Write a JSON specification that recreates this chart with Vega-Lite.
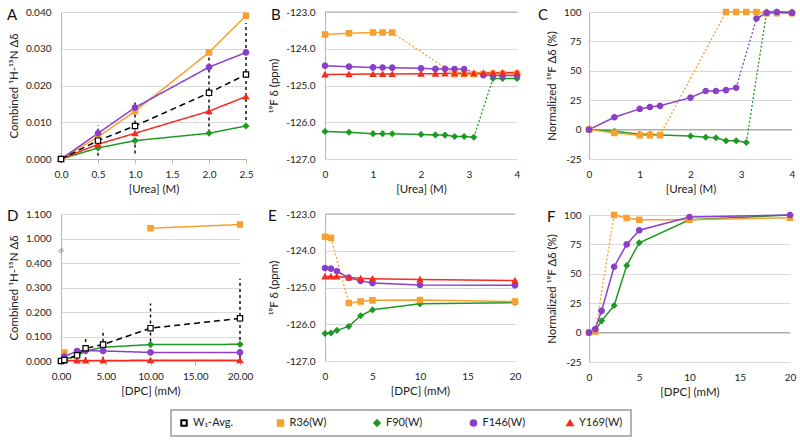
{
  "$schema": "https://vega.github.io/schema/vega-lite/v6.json",
  "background": "white",
  "padding": {"left": 7, "top": 6, "right": 5, "bottom": 5},
  "config": {
    "font": "Lato",
    "view": {"stroke": null},
    "locale": {"number": {"decimal": ".", "thousands": ",", "grouping": [3], "currency": ["$", ""], "minus": "-"}},
    "axis": {"labelFont": "Lato", "labelFontSize": 10, "labelColor": "#222", "titleFont": "Lato", "titleFontSize": 11.5, "titleFontWeight": "normal", "titleColor": "#222", "gridColor": "#d9d9d9", "domainColor": "#b3b3b3", "tickColor": "#b3b3b3"},
    "axisY": {"grid": true, "domain": true, "ticks": false, "tickSize": 0, "labelPadding": 10, "titlePadding": 6},
    "axisX": {"grid": false, "ticks": false, "tickSize": 0, "domain": false, "labelPadding": 10, "titlePadding": 4, "labelOverlap": false, "labelFlush": false, "labelBound": false}
  },
  "datasets": {
    "A": [
      {"s": "F90(W)", "x": 0, "y": 0, "seg": 1},
      {"s": "F90(W)", "x": 0.5, "y": 0.003, "seg": 1},
      {"s": "F90(W)", "x": 1.0, "y": 0.005, "seg": 1},
      {"s": "F90(W)", "x": 2.0, "y": 0.007, "seg": 1},
      {"s": "F90(W)", "x": 2.5, "y": 0.009, "seg": 1},
      {"s": "R36(W)", "x": 0, "y": 0, "seg": 1},
      {"s": "R36(W)", "x": 0.5, "y": 0.006, "seg": 1},
      {"s": "R36(W)", "x": 1.0, "y": 0.013, "seg": 1},
      {"s": "R36(W)", "x": 2.0, "y": 0.029, "seg": 1},
      {"s": "R36(W)", "x": 2.5, "y": 0.039, "seg": 1},
      {"s": "F146(W)", "x": 0, "y": 0, "seg": 1},
      {"s": "F146(W)", "x": 0.5, "y": 0.007, "seg": 1},
      {"s": "F146(W)", "x": 1.0, "y": 0.014, "seg": 1},
      {"s": "F146(W)", "x": 2.0, "y": 0.025, "seg": 1},
      {"s": "F146(W)", "x": 2.5, "y": 0.029, "seg": 1},
      {"s": "Y169(W)", "x": 0, "y": 0, "seg": 1},
      {"s": "Y169(W)", "x": 0.5, "y": 0.004, "seg": 1},
      {"s": "Y169(W)", "x": 1.0, "y": 0.007, "seg": 1},
      {"s": "Y169(W)", "x": 2.0, "y": 0.013, "seg": 1},
      {"s": "Y169(W)", "x": 2.5, "y": 0.017, "seg": 1},
      {"s": "W₁-Avg.", "x": 0, "y": 0, "seg": 1},
      {"s": "W₁-Avg.", "x": 0.5, "y": 0.005, "seg": 1, "lo": 0.0009, "hi": 0.0092},
      {"s": "W₁-Avg.", "x": 1.0, "y": 0.009, "seg": 1, "lo": 0.0015, "hi": 0.0155},
      {"s": "W₁-Avg.", "x": 2.0, "y": 0.018, "seg": 1, "lo": 0.0072, "hi": 0.029},
      {"s": "W₁-Avg.", "x": 2.5, "y": 0.023, "seg": 1, "lo": 0.009, "hi": 0.037}
    ],
    "B": [
      {"s": "F90(W)", "x": 0, "y": -126.25, "seg": 1},
      {"s": "F90(W)", "x": 0.5, "y": -126.27, "seg": 1},
      {"s": "F90(W)", "x": 1.0, "y": -126.31, "seg": 1},
      {"s": "F90(W)", "x": 1.2, "y": -126.31, "seg": 1},
      {"s": "F90(W)", "x": 1.4, "y": -126.315, "seg": 1},
      {"s": "F90(W)", "x": 2.0, "y": -126.33, "seg": 1},
      {"s": "F90(W)", "x": 2.3, "y": -126.344, "seg": 1},
      {"s": "F90(W)", "x": 2.5, "y": -126.35, "seg": 1},
      {"s": "F90(W)", "x": 2.7, "y": -126.387, "seg": 1},
      {"s": "F90(W)", "x": 2.9, "y": -126.387, "seg": 1},
      {"s": "F90(W)", "x": 3.1, "y": -126.408, "seg": 1, "gap": "g"},
      {"s": "F90(W)", "x": 3.5, "y": -124.81, "seg": 2, "gap": "g"},
      {"s": "F90(W)", "x": 3.7, "y": -124.81, "seg": 2},
      {"s": "F90(W)", "x": 4.0, "y": -124.81, "seg": 2},
      {"s": "R36(W)", "x": 0, "y": -123.61, "seg": 1},
      {"s": "R36(W)", "x": 0.5, "y": -123.58, "seg": 1},
      {"s": "R36(W)", "x": 1.0, "y": -123.56, "seg": 1},
      {"s": "R36(W)", "x": 1.2, "y": -123.56, "seg": 1},
      {"s": "R36(W)", "x": 1.4, "y": -123.56, "seg": 1, "gap": "o"},
      {"s": "R36(W)", "x": 2.7, "y": -124.69, "seg": 2, "gap": "o"},
      {"s": "R36(W)", "x": 2.9, "y": -124.69, "seg": 2},
      {"s": "R36(W)", "x": 3.1, "y": -124.69, "seg": 2},
      {"s": "R36(W)", "x": 3.3, "y": -124.69, "seg": 2},
      {"s": "R36(W)", "x": 3.5, "y": -124.68, "seg": 2},
      {"s": "R36(W)", "x": 3.7, "y": -124.68, "seg": 2},
      {"s": "R36(W)", "x": 4.0, "y": -124.68, "seg": 2},
      {"s": "F146(W)", "x": 0, "y": -124.46, "seg": 1},
      {"s": "F146(W)", "x": 0.5, "y": -124.488, "seg": 1},
      {"s": "F146(W)", "x": 1.0, "y": -124.508, "seg": 1},
      {"s": "F146(W)", "x": 1.2, "y": -124.511, "seg": 1},
      {"s": "F146(W)", "x": 1.4, "y": -124.514, "seg": 1},
      {"s": "F146(W)", "x": 2.0, "y": -124.533, "seg": 1},
      {"s": "F146(W)", "x": 2.3, "y": -124.548, "seg": 1},
      {"s": "F146(W)", "x": 2.5, "y": -124.548, "seg": 1},
      {"s": "F146(W)", "x": 2.7, "y": -124.55, "seg": 1},
      {"s": "F146(W)", "x": 2.9, "y": -124.556, "seg": 1, "gap": "p"},
      {"s": "F146(W)", "x": 3.3, "y": -124.717, "seg": 2, "gap": "p"},
      {"s": "F146(W)", "x": 3.5, "y": -124.728, "seg": 2},
      {"s": "F146(W)", "x": 3.7, "y": -124.73, "seg": 2},
      {"s": "F146(W)", "x": 4.0, "y": -124.728, "seg": 2},
      {"s": "Y169(W)", "x": 0, "y": -124.7, "seg": 1},
      {"s": "Y169(W)", "x": 0.5, "y": -124.695, "seg": 1},
      {"s": "Y169(W)", "x": 1.0, "y": -124.69, "seg": 1},
      {"s": "Y169(W)", "x": 1.2, "y": -124.69, "seg": 1},
      {"s": "Y169(W)", "x": 1.4, "y": -124.69, "seg": 1},
      {"s": "Y169(W)", "x": 2.0, "y": -124.68, "seg": 1},
      {"s": "Y169(W)", "x": 2.3, "y": -124.68, "seg": 1},
      {"s": "Y169(W)", "x": 2.5, "y": -124.675, "seg": 1},
      {"s": "Y169(W)", "x": 2.7, "y": -124.67, "seg": 1},
      {"s": "Y169(W)", "x": 2.9, "y": -124.67, "seg": 1},
      {"s": "Y169(W)", "x": 3.1, "y": -124.665, "seg": 1},
      {"s": "Y169(W)", "x": 3.3, "y": -124.66, "seg": 1},
      {"s": "Y169(W)", "x": 3.5, "y": -124.655, "seg": 1},
      {"s": "Y169(W)", "x": 3.7, "y": -124.65, "seg": 1},
      {"s": "Y169(W)", "x": 4.0, "y": -124.645, "seg": 1}
    ],
    "C": [
      {"s": "F90(W)", "x": 0, "y": 0, "seg": 1},
      {"s": "F90(W)", "x": 0.5, "y": -1.5, "seg": 1},
      {"s": "F90(W)", "x": 1.0, "y": -4, "seg": 1},
      {"s": "F90(W)", "x": 1.2, "y": -4, "seg": 1},
      {"s": "F90(W)", "x": 1.4, "y": -4.5, "seg": 1},
      {"s": "F90(W)", "x": 2.0, "y": -5.5, "seg": 1},
      {"s": "F90(W)", "x": 2.3, "y": -6.5, "seg": 1},
      {"s": "F90(W)", "x": 2.5, "y": -7, "seg": 1},
      {"s": "F90(W)", "x": 2.7, "y": -9.5, "seg": 1},
      {"s": "F90(W)", "x": 2.9, "y": -9.5, "seg": 1},
      {"s": "F90(W)", "x": 3.1, "y": -11, "seg": 1, "gap": "g"},
      {"s": "F90(W)", "x": 3.5, "y": 100, "seg": 2, "gap": "g"},
      {"s": "F90(W)", "x": 3.7, "y": 100, "seg": 2},
      {"s": "F90(W)", "x": 4.0, "y": 100, "seg": 2},
      {"s": "R36(W)", "x": 0, "y": 0, "seg": 1},
      {"s": "R36(W)", "x": 0.5, "y": -2.8, "seg": 1},
      {"s": "R36(W)", "x": 1.0, "y": -4.8, "seg": 1},
      {"s": "R36(W)", "x": 1.2, "y": -4.8, "seg": 1},
      {"s": "R36(W)", "x": 1.4, "y": -4.8, "seg": 1, "gap": "o"},
      {"s": "R36(W)", "x": 2.7, "y": 100, "seg": 2, "gap": "o"},
      {"s": "R36(W)", "x": 2.9, "y": 100, "seg": 2},
      {"s": "R36(W)", "x": 3.1, "y": 100, "seg": 2},
      {"s": "R36(W)", "x": 3.3, "y": 100, "seg": 2},
      {"s": "R36(W)", "x": 3.5, "y": 99, "seg": 2},
      {"s": "R36(W)", "x": 3.7, "y": 99, "seg": 2},
      {"s": "R36(W)", "x": 4.0, "y": 99, "seg": 2},
      {"s": "F146(W)", "x": 0, "y": 0, "seg": 1},
      {"s": "F146(W)", "x": 0.5, "y": 10.5, "seg": 1},
      {"s": "F146(W)", "x": 1.0, "y": 17.6, "seg": 1},
      {"s": "F146(W)", "x": 1.2, "y": 19.2, "seg": 1},
      {"s": "F146(W)", "x": 1.4, "y": 20.2, "seg": 1},
      {"s": "F146(W)", "x": 2.0, "y": 27.2, "seg": 1},
      {"s": "F146(W)", "x": 2.3, "y": 32.8, "seg": 1},
      {"s": "F146(W)", "x": 2.5, "y": 32.8, "seg": 1},
      {"s": "F146(W)", "x": 2.7, "y": 33.6, "seg": 1},
      {"s": "F146(W)", "x": 2.9, "y": 35.6, "seg": 1, "gap": "p"},
      {"s": "F146(W)", "x": 3.3, "y": 94.5, "seg": 2, "gap": "p"},
      {"s": "F146(W)", "x": 3.5, "y": 99.2, "seg": 2},
      {"s": "F146(W)", "x": 3.7, "y": 100, "seg": 2},
      {"s": "F146(W)", "x": 4.0, "y": 99.2, "seg": 2}
    ],
    "D": [
      {"s": "R36(W)", "x": 0.37, "y": 0.035, "seg": 1},
      {"s": "R36(W)", "x": 10, "y": 1.042, "seg": 2},
      {"s": "R36(W)", "x": 20, "y": 1.057, "seg": 2},
      {"s": "F90(W)", "x": 0, "y": 0, "seg": 1},
      {"s": "F90(W)", "x": 0.37, "y": 0.007, "seg": 1},
      {"s": "F90(W)", "x": 1.8, "y": 0.021, "seg": 1},
      {"s": "F90(W)", "x": 2.75, "y": 0.041, "seg": 1},
      {"s": "F90(W)", "x": 4.7, "y": 0.056, "seg": 1},
      {"s": "F90(W)", "x": 10, "y": 0.067, "seg": 1},
      {"s": "F90(W)", "x": 20, "y": 0.068, "seg": 1},
      {"s": "F146(W)", "x": 0, "y": 0, "seg": 1},
      {"s": "F146(W)", "x": 0.37, "y": 0.018, "seg": 1},
      {"s": "F146(W)", "x": 1.8, "y": 0.041, "seg": 1},
      {"s": "F146(W)", "x": 2.75, "y": 0.042, "seg": 1},
      {"s": "F146(W)", "x": 4.7, "y": 0.041, "seg": 1},
      {"s": "F146(W)", "x": 10, "y": 0.035, "seg": 1},
      {"s": "F146(W)", "x": 20, "y": 0.035, "seg": 1},
      {"s": "Y169(W)", "x": 0, "y": 0, "seg": 1},
      {"s": "Y169(W)", "x": 0.37, "y": 0.002, "seg": 1},
      {"s": "Y169(W)", "x": 1.8, "y": 0.002, "seg": 1},
      {"s": "Y169(W)", "x": 2.75, "y": 0.002, "seg": 1},
      {"s": "Y169(W)", "x": 4.7, "y": 0.002, "seg": 1},
      {"s": "Y169(W)", "x": 10, "y": 0.003, "seg": 1},
      {"s": "Y169(W)", "x": 20, "y": 0.003, "seg": 1},
      {"s": "W₁-Avg.", "x": 0, "y": 0, "seg": 1},
      {"s": "W₁-Avg.", "x": 0.37, "y": 0.004, "seg": 1},
      {"s": "W₁-Avg.", "x": 1.8, "y": 0.023, "seg": 1},
      {"s": "W₁-Avg.", "x": 2.75, "y": 0.052, "seg": 1, "lo": 0.004, "hi": 0.1},
      {"s": "W₁-Avg.", "x": 4.7, "y": 0.067, "seg": 1, "lo": 0.005, "hi": 0.129},
      {"s": "W₁-Avg.", "x": 10, "y": 0.134, "seg": 1, "lo": 0.031, "hi": 0.235},
      {"s": "W₁-Avg.", "x": 20, "y": 0.174, "seg": 1, "lo": 0.012, "hi": 0.336}
    ],
    "E": [
      {"s": "F90(W)", "x": 0, "y": -126.25, "seg": 1},
      {"s": "F90(W)", "x": 0.625, "y": -126.236, "seg": 1},
      {"s": "F90(W)", "x": 1.25, "y": -126.166, "seg": 1},
      {"s": "F90(W)", "x": 2.5, "y": -126.057, "seg": 1},
      {"s": "F90(W)", "x": 3.75, "y": -125.77, "seg": 1},
      {"s": "F90(W)", "x": 5, "y": -125.608, "seg": 1},
      {"s": "F90(W)", "x": 10, "y": -125.441, "seg": 1},
      {"s": "F90(W)", "x": 20, "y": -125.41, "seg": 1},
      {"s": "R36(W)", "x": 0, "y": -123.62, "seg": 1},
      {"s": "R36(W)", "x": 0.625, "y": -123.65, "seg": 1, "gap": "o"},
      {"s": "R36(W)", "x": 2.5, "y": -125.42, "seg": 2, "gap": "o"},
      {"s": "R36(W)", "x": 3.75, "y": -125.38, "seg": 2},
      {"s": "R36(W)", "x": 5, "y": -125.35, "seg": 2},
      {"s": "R36(W)", "x": 10, "y": -125.34, "seg": 2},
      {"s": "R36(W)", "x": 20, "y": -125.38, "seg": 2},
      {"s": "F146(W)", "x": 0, "y": -124.47, "seg": 1},
      {"s": "F146(W)", "x": 0.625, "y": -124.485, "seg": 1},
      {"s": "F146(W)", "x": 1.25, "y": -124.557, "seg": 1},
      {"s": "F146(W)", "x": 2.5, "y": -124.733, "seg": 1},
      {"s": "F146(W)", "x": 3.75, "y": -124.82, "seg": 1},
      {"s": "F146(W)", "x": 5, "y": -124.879, "seg": 1},
      {"s": "F146(W)", "x": 10, "y": -124.932, "seg": 1},
      {"s": "F146(W)", "x": 20, "y": -124.94, "seg": 1},
      {"s": "Y169(W)", "x": 0, "y": -124.7, "seg": 1},
      {"s": "Y169(W)", "x": 0.625, "y": -124.7, "seg": 1},
      {"s": "Y169(W)", "x": 1.25, "y": -124.7, "seg": 1},
      {"s": "Y169(W)", "x": 2.5, "y": -124.73, "seg": 1},
      {"s": "Y169(W)", "x": 3.75, "y": -124.75, "seg": 1},
      {"s": "Y169(W)", "x": 5, "y": -124.76, "seg": 1},
      {"s": "Y169(W)", "x": 10, "y": -124.78, "seg": 1},
      {"s": "Y169(W)", "x": 20, "y": -124.81, "seg": 1}
    ],
    "F": [
      {"s": "F90(W)", "x": 0, "y": 0, "seg": 1},
      {"s": "F90(W)", "x": 0.625, "y": 1.7, "seg": 1},
      {"s": "F90(W)", "x": 1.25, "y": 10, "seg": 1},
      {"s": "F90(W)", "x": 2.5, "y": 23, "seg": 1},
      {"s": "F90(W)", "x": 3.75, "y": 57, "seg": 1},
      {"s": "F90(W)", "x": 5, "y": 76.4, "seg": 1},
      {"s": "F90(W)", "x": 10, "y": 96, "seg": 1},
      {"s": "F90(W)", "x": 20, "y": 100, "seg": 1},
      {"s": "R36(W)", "x": 0, "y": 0, "seg": 1},
      {"s": "R36(W)", "x": 0.625, "y": 1, "seg": 1, "gap": "o"},
      {"s": "R36(W)", "x": 2.5, "y": 100, "seg": 2, "gap": "o"},
      {"s": "R36(W)", "x": 3.75, "y": 97.5, "seg": 2},
      {"s": "R36(W)", "x": 5, "y": 96, "seg": 2},
      {"s": "R36(W)", "x": 10, "y": 96, "seg": 2},
      {"s": "R36(W)", "x": 20, "y": 97.6, "seg": 2},
      {"s": "F146(W)", "x": 0, "y": 0, "seg": 1},
      {"s": "F146(W)", "x": 0.625, "y": 3, "seg": 1},
      {"s": "F146(W)", "x": 1.25, "y": 18.5, "seg": 1},
      {"s": "F146(W)", "x": 2.5, "y": 56, "seg": 1},
      {"s": "F146(W)", "x": 3.75, "y": 75, "seg": 1},
      {"s": "F146(W)", "x": 5, "y": 87, "seg": 1},
      {"s": "F146(W)", "x": 10, "y": 98.3, "seg": 1},
      {"s": "F146(W)", "x": 20, "y": 100, "seg": 1}
    ],
    "series": [
      {"s": "W₁-Avg."}, {"s": "R36(W)"}, {"s": "F90(W)"}, {"s": "F146(W)"}, {"s": "Y169(W)"}
    ]
  },
  "vconcat": [
    {
      "hconcat": [
        {
          "vconcat": [
            {
              "width": 185, "height": 147,
              "data": {"name": "A"},
              "encoding": {
                "x": {"field": "x", "type": "quantitative", "scale": {"domain": [0, 2.5], "nice": false}, "axis": {"title": "[Urea] (M)", "values": [0, 0.5, 1, 1.5, 2, 2.5], "format": ".1f", "domain": true, "ticks": true, "tickSize": 4, "labelPadding": 6}},
                "y": {"field": "y", "type": "quantitative", "scale": {"domain": [0, 0.04], "nice": false}, "axis": {"title": "Combined ¹H-¹⁵N Δδ", "values": [0, 0.01, 0.02, 0.03, 0.04], "format": ".3f"}}
              },
              "layer": [
                {"transform": [{"aggregate": [{"op": "min", "field": "x", "as": "x"}, {"op": "min", "field": "y", "as": "y"}]}], "mark": {"type": "text", "text": "A", "font": "Lato", "fontSize": 15, "align": "left", "baseline": "alphabetic", "dx": -54, "dy": 8, "color": "#111", "invalid": null}, "encoding": {"x": {"datum": 0}, "y": {"datum": 0.04}}},
                {"transform": [{"filter": "isValid(datum.lo)"}], "mark": {"type": "rule", "color": "#000", "strokeWidth": 1.4, "strokeDash": [3, 3]}, "encoding": {"y": {"field": "lo", "type": "quantitative", "title": "Combined ¹H-¹⁵N Δδ"}, "y2": {"field": "hi"}}},
                {"mark": {"type": "line", "strokeWidth": 1.5}, "encoding": {
                  "stroke": {"field": "s", "type": "nominal", "scale": {"domain": ["W₁-Avg.", "R36(W)", "F90(W)", "F146(W)", "Y169(W)"], "range": ["#000000", "#F7A02F", "#1E9A22", "#8A3FCB", "#F52B1F"]}, "legend": null},
                  "strokeDash": {"field": "s", "type": "nominal", "scale": {"domain": ["W₁-Avg.", "R36(W)", "F90(W)", "F146(W)", "Y169(W)"], "range": [[6, 4], [1, 0], [1, 0], [1, 0], [1, 0]]}, "legend": null},
                  "detail": {"field": "seg"}}},
                {"mark": {"type": "point", "filled": true, "opacity": 1, "strokeWidth": 1.2}, "encoding": {
                  "shape": {"field": "s", "type": "nominal", "scale": {"domain": ["W₁-Avg.", "R36(W)", "F90(W)", "F146(W)", "Y169(W)"], "range": ["square", "square", "diamond", "circle", "triangle-up"]}, "legend": null},
                  "fill": {"field": "s", "type": "nominal", "scale": {"domain": ["W₁-Avg.", "R36(W)", "F90(W)", "F146(W)", "Y169(W)"], "range": ["#ffffff", "#F7A02F", "#1E9A22", "#8A3FCB", "#F52B1F"]}, "legend": null},
                  "stroke": {"field": "s", "type": "nominal", "legend": null},
                  "size": {"field": "s", "type": "nominal", "scale": {"domain": ["W₁-Avg.", "R36(W)", "F90(W)", "F146(W)", "Y169(W)"], "range": [28, 30, 38, 40, 36]}, "legend": null}}}
              ]
            },
            {
              "width": 179, "height": 147,
              "data": {"name": "D"},
              "encoding": {
                "x": {"field": "x", "type": "quantitative", "scale": {"domain": [0, 20], "nice": false}, "axis": {"title": "[DPC] (mM)", "values": [0, 5, 10, 15, 20], "format": ".2f", "domain": true, "ticks": true, "tickSize": 4, "labelPadding": 6}},
                "y": {"field": "y", "type": "quantitative", "scale": {"domain": [0, 0.4, 1.0, 1.1], "range": [147, 49, 24.5, 0], "nice": false, "zero": false}, "axis": {"title": "Combined ¹H-¹⁵N Δδ", "values": [0, 0.1, 0.2, 0.3, 0.4, 1.0, 1.1], "format": ".3f"}}
              },
              "layer": [
                {"transform": [{"aggregate": [{"op": "min", "field": "x", "as": "x"}, {"op": "min", "field": "y", "as": "y"}]}], "mark": {"type": "text", "text": "D", "font": "Lato", "fontSize": 15, "align": "left", "baseline": "alphabetic", "dx": -54, "dy": 7, "color": "#111", "invalid": null}, "encoding": {"x": {"datum": 0}, "y": {"datum": 1.1}}},
                {"transform": [{"aggregate": [{"op": "min", "field": "x", "as": "x"}, {"op": "min", "field": "y", "as": "y"}]}], "mark": {"type": "text", "text": "=", "angle": -35, "fontSize": 12, "color": "#888", "invalid": null}, "encoding": {"x": {"datum": 0}, "y": {"datum": 0.7}}},
                {"transform": [{"filter": "isValid(datum.lo)"}], "mark": {"type": "rule", "color": "#000", "strokeWidth": 1.4, "strokeDash": [3, 3]}, "encoding": {"y": {"field": "lo", "type": "quantitative", "title": "Combined ¹H-¹⁵N Δδ"}, "y2": {"field": "hi"}}},
                {"mark": {"type": "line", "strokeWidth": 1.5}, "encoding": {
                  "stroke": {"field": "s", "type": "nominal", "legend": null},
                  "strokeDash": {"field": "s", "type": "nominal", "legend": null},
                  "detail": {"field": "seg"}}},
                {"mark": {"type": "point", "filled": true, "opacity": 1, "strokeWidth": 1.2}, "encoding": {
                  "shape": {"field": "s", "type": "nominal", "legend": null},
                  "fill": {"field": "s", "type": "nominal", "legend": null},
                  "stroke": {"field": "s", "type": "nominal", "legend": null},
                  "size": {"field": "s", "type": "nominal", "legend": null}}}
              ]
            }
          ],
          "spacing": 14
        },
        {
          "vconcat": [
            {
              "width": 192, "height": 147,
              "data": {"name": "B"},
              "encoding": {
                "x": {"field": "x", "type": "quantitative", "scale": {"domain": [0, 4], "nice": false}, "axis": {"title": "[Urea] (M)", "values": [0, 1, 2, 3, 4], "format": "d"}},
                "y": {"field": "y", "type": "quantitative", "scale": {"domain": [-127, -123], "nice": false, "zero": false}, "axis": {"title": "¹⁹F δ (ppm)", "values": [-127, -126, -125, -124, -123], "format": ".1f"}}
              },
              "layer": [
                {"transform": [{"aggregate": [{"op": "min", "field": "x", "as": "x"}, {"op": "min", "field": "y", "as": "y"}]}], "mark": {"type": "text", "text": "B", "font": "Lato", "fontSize": 15, "align": "left", "baseline": "alphabetic", "dx": -54, "dy": 8, "color": "#111", "invalid": null}, "encoding": {"x": {"datum": 0}, "y": {"datum": -123}}},
                {"transform": [{"aggregate": [{"op": "min", "field": "x", "as": "x"}, {"op": "min", "field": "y", "as": "y"}]}], "mark": {"type": "rule", "color": "#a6a6a6", "strokeWidth": 1, "invalid": null}, "encoding": {"x": {"datum": 0}, "x2": {"datum": 4}, "y": {"datum": -123}}},
                {"transform": [{"filter": "isValid(datum.gap)"}], "mark": {"type": "line", "strokeWidth": 1.3, "strokeDash": [2, 2]}, "encoding": {"stroke": {"field": "s", "type": "nominal", "legend": null}, "detail": {"field": "gap"}}},
                {"mark": {"type": "line", "strokeWidth": 1.5}, "encoding": {
                  "stroke": {"field": "s", "type": "nominal", "legend": null},
                  "detail": {"field": "seg"}}},
                {"mark": {"type": "point", "filled": true, "opacity": 1, "strokeWidth": 1.2}, "encoding": {
                  "shape": {"field": "s", "type": "nominal", "legend": null},
                  "fill": {"field": "s", "type": "nominal", "legend": null},
                  "stroke": {"field": "s", "type": "nominal", "legend": null},
                  "size": {"field": "s", "type": "nominal", "legend": null}}}
              ]
            },
            {
              "width": 190, "height": 147,
              "data": {"name": "E"},
              "encoding": {
                "x": {"field": "x", "type": "quantitative", "scale": {"domain": [0, 20], "nice": false}, "axis": {"title": "[DPC] (mM)", "values": [0, 5, 10, 15, 20], "format": "d"}},
                "y": {"field": "y", "type": "quantitative", "scale": {"domain": [-127, -123], "nice": false, "zero": false}, "axis": {"title": "¹⁹F δ (ppm)", "values": [-127, -126, -125, -124, -123], "format": ".1f"}}
              },
              "layer": [
                {"transform": [{"aggregate": [{"op": "min", "field": "x", "as": "x"}, {"op": "min", "field": "y", "as": "y"}]}], "mark": {"type": "text", "text": "E", "font": "Lato", "fontSize": 15, "align": "left", "baseline": "alphabetic", "dx": -57, "dy": 7, "color": "#111", "invalid": null}, "encoding": {"x": {"datum": 0}, "y": {"datum": -123}}},
                {"transform": [{"aggregate": [{"op": "min", "field": "x", "as": "x"}, {"op": "min", "field": "y", "as": "y"}]}], "mark": {"type": "rule", "color": "#a6a6a6", "strokeWidth": 1, "invalid": null}, "encoding": {"x": {"datum": 0}, "x2": {"datum": 20}, "y": {"datum": -123}}},
                {"transform": [{"filter": "isValid(datum.gap)"}], "mark": {"type": "line", "strokeWidth": 1.3, "strokeDash": [2, 2]}, "encoding": {"stroke": {"field": "s", "type": "nominal", "legend": null}, "detail": {"field": "gap"}}},
                {"mark": {"type": "line", "strokeWidth": 1.5}, "encoding": {
                  "stroke": {"field": "s", "type": "nominal", "legend": null},
                  "detail": {"field": "seg"}}},
                {"mark": {"type": "point", "filled": true, "opacity": 1, "strokeWidth": 1.2}, "encoding": {
                  "shape": {"field": "s", "type": "nominal", "legend": null},
                  "fill": {"field": "s", "type": "nominal", "legend": null},
                  "stroke": {"field": "s", "type": "nominal", "legend": null},
                  "size": {"field": "s", "type": "nominal", "legend": null}}}
              ]
            }
          ],
          "spacing": 14
        },
        {
          "vconcat": [
            {
              "width": 203, "height": 147,
              "data": {"name": "C"},
              "encoding": {
                "x": {"field": "x", "type": "quantitative", "scale": {"domain": [0, 4], "nice": false}, "axis": {"title": "[Urea] (M)", "values": [0, 1, 2, 3, 4], "format": "d"}},
                "y": {"field": "y", "type": "quantitative", "scale": {"domain": [-25, 100], "nice": false, "zero": false}, "axis": {"title": "Normalized ¹⁹F Δδ (%)", "values": [-25, 0, 25, 50, 75, 100], "format": "d", "labelPadding": 8}}
              },
              "layer": [
                {"transform": [{"aggregate": [{"op": "min", "field": "x", "as": "x"}, {"op": "min", "field": "y", "as": "y"}]}], "mark": {"type": "text", "text": "C", "font": "Lato", "fontSize": 15, "align": "left", "baseline": "alphabetic", "dx": -51, "dy": 8, "color": "#111", "invalid": null}, "encoding": {"x": {"datum": 0}, "y": {"datum": 100}}},
                {"transform": [{"aggregate": [{"op": "min", "field": "x", "as": "x"}, {"op": "min", "field": "y", "as": "y"}]}], "mark": {"type": "rule", "color": "#a6a6a6", "strokeWidth": 1, "invalid": null}, "encoding": {"x": {"datum": 0}, "x2": {"datum": 4}, "y": {"datum": 0}}},
                {"transform": [{"filter": "isValid(datum.gap)"}], "mark": {"type": "line", "strokeWidth": 1.3, "strokeDash": [2, 2]}, "encoding": {"stroke": {"field": "s", "type": "nominal", "legend": null}, "detail": {"field": "gap"}}},
                {"mark": {"type": "line", "strokeWidth": 1.5}, "encoding": {
                  "stroke": {"field": "s", "type": "nominal", "legend": null},
                  "detail": {"field": "seg"}}},
                {"mark": {"type": "point", "filled": true, "opacity": 1, "strokeWidth": 1.2}, "encoding": {
                  "shape": {"field": "s", "type": "nominal", "legend": null},
                  "fill": {"field": "s", "type": "nominal", "legend": null},
                  "stroke": {"field": "s", "type": "nominal", "legend": null},
                  "size": {"field": "s", "type": "nominal", "legend": null}}}
              ]
            },
            {
              "width": 201, "height": 147,
              "data": {"name": "F"},
              "encoding": {
                "x": {"field": "x", "type": "quantitative", "scale": {"domain": [0, 20], "nice": false}, "axis": {"title": "[DPC] (mM)", "values": [0, 5, 10, 15, 20], "format": "d"}},
                "y": {"field": "y", "type": "quantitative", "scale": {"domain": [-25, 100], "nice": false, "zero": false}, "axis": {"title": "Normalized ¹⁹F Δδ (%)", "values": [-25, 0, 25, 50, 75, 100], "format": "d", "labelPadding": 8}}
              },
              "layer": [
                {"transform": [{"aggregate": [{"op": "min", "field": "x", "as": "x"}, {"op": "min", "field": "y", "as": "y"}]}], "mark": {"type": "text", "text": "F", "font": "Lato", "fontSize": 15, "align": "left", "baseline": "alphabetic", "dx": -42, "dy": 7, "color": "#111", "invalid": null}, "encoding": {"x": {"datum": 0}, "y": {"datum": 100}}},
                {"transform": [{"aggregate": [{"op": "min", "field": "x", "as": "x"}, {"op": "min", "field": "y", "as": "y"}]}], "mark": {"type": "rule", "color": "#a6a6a6", "strokeWidth": 1, "invalid": null}, "encoding": {"x": {"datum": 0}, "x2": {"datum": 20}, "y": {"datum": 0}}},
                {"transform": [{"filter": "isValid(datum.gap)"}], "mark": {"type": "line", "strokeWidth": 1.3, "strokeDash": [2, 2]}, "encoding": {"stroke": {"field": "s", "type": "nominal", "legend": null}, "detail": {"field": "gap"}}},
                {"mark": {"type": "line", "strokeWidth": 1.5}, "encoding": {
                  "stroke": {"field": "s", "type": "nominal", "legend": null},
                  "detail": {"field": "seg"}}},
                {"mark": {"type": "point", "filled": true, "opacity": 1, "strokeWidth": 1.2}, "encoding": {
                  "shape": {"field": "s", "type": "nominal", "legend": null},
                  "fill": {"field": "s", "type": "nominal", "legend": null},
                  "stroke": {"field": "s", "type": "nominal", "legend": null},
                  "size": {"field": "s", "type": "nominal", "legend": null}}}
              ]
            }
          ],
          "spacing": 14
        }
      ],
      "spacing": 15
    },
    {
      "hconcat": [
        {
          "width": 109, "height": 26,
          "data": {"values": [{"k": 1}]},
          "mark": {"type": "point", "opacity": 0},
          "encoding": {}
        },
        {
          "width": 460, "height": 26,
          "view": {"stroke": "#9a9a9a", "strokeWidth": 1.5},
          "data": {"name": "series"},
          "encoding": {
            "x": {"field": "s", "type": "nominal", "scale": {"type": "point", "domain": ["W₁-Avg.", "R36(W)", "F90(W)", "F146(W)", "Y169(W)"], "range": [13, 399], "padding": 0}, "axis": null}
          },
          "layer": [
            {"mark": {"type": "point", "filled": true, "opacity": 1, "strokeWidth": 2}, "encoding": {
              "shape": {"field": "s", "type": "nominal", "legend": null},
              "fill": {"field": "s", "type": "nominal", "legend": null},
              "stroke": {"field": "s", "type": "nominal", "legend": null}}},
            {"mark": {"type": "text", "align": "left", "baseline": "middle", "dx": 9, "font": "Lato", "fontSize": 11, "color": "#222"}, "encoding": {"text": {"field": "s"}}}
          ]
        }
      ],
      "spacing": 0
    }
  ],
  "spacing": 11,
  "center": false
}
